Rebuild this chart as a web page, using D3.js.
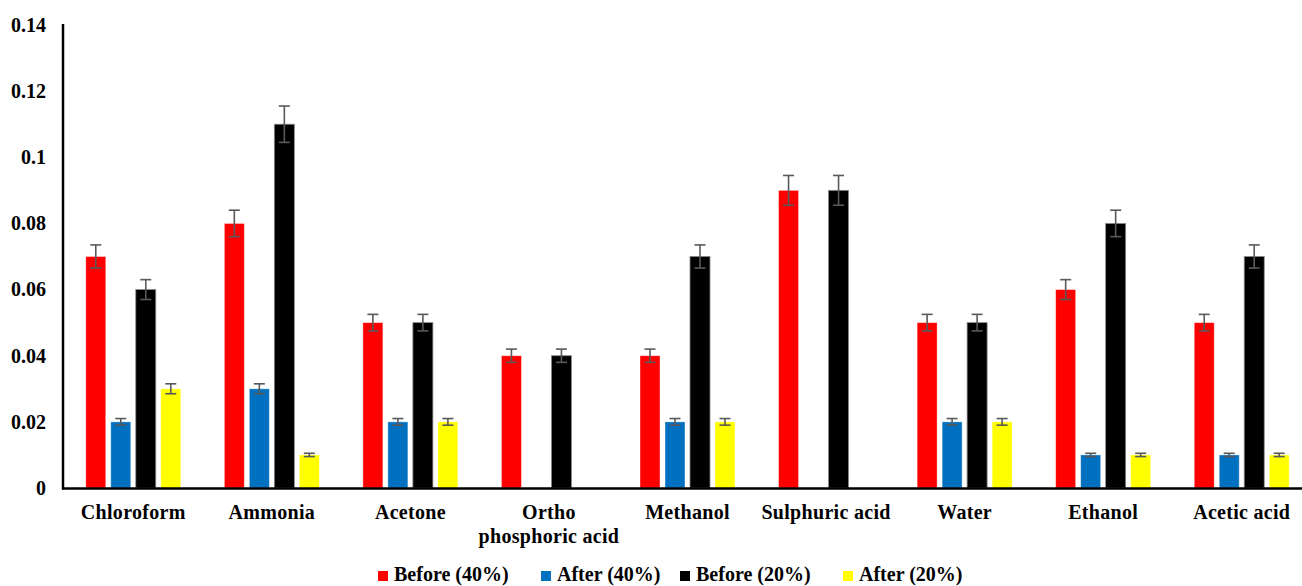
<!DOCTYPE html>
<html>
<head>
<meta charset="utf-8">
<script src="https://cdn.jsdelivr.net/npm/d3@7"></script>
<style>
  html, body { margin: 0; padding: 0; background: #fff; }
  svg { display: block; }
  text { font-family: "Liberation Serif", "Times New Roman", serif; font-weight: bold; fill: #000; }
</style>
</head>
<body>
<svg id="chart" width="1302" height="586"></svg>
<script>
const categories = ["Chloroform", "Ammonia", "Acetone", "Ortho\nphosphoric acid", "Methanol", "Sulphuric acid", "Water", "Ethanol", "Acetic acid"];
const seriesNames = ["Before (40%)", "After (40%)", "Before (20%)", "After (20%)"];
const seriesColors = ["#FF0000", "#0070C0", "#000000", "#FFFF00"];
const before40 = [0.07, 0.08, 0.05, 0.04, 0.04, 0.09, 0.05, 0.06, 0.05];
const after40  = [0.02, 0.03, 0.02, 0,    0.02, 0,    0.02, 0.01, 0.01];
const before20 = [0.06, 0.11, 0.05, 0.04, 0.07, 0.09, 0.05, 0.08, 0.07];
const after20  = [0.03, 0.01, 0.02, 0,    0.02, 0,    0.02, 0.01, 0.01];
const yTicks = [0, 0.02, 0.04, 0.06, 0.08, 0.1, 0.12, 0.14];
const errorPct = 0.05;

const seriesValues = [before40, after40, before20, after20];

const svg = d3.select("#chart");
const x0 = d3.scaleBand().domain(categories).range([64, 1311]).padding(0);
const bw = x0.bandwidth();
const x1 = d3.scaleBand().domain(seriesNames).range([bw / 2 - 50, bw / 2 + 50]).paddingInner(0.2).paddingOuter(0.1);
const y = d3.scaleLinear().domain([0, 0.14]).range([488, 25]);

// Y tick labels
const yAxis = d3.axisLeft(y).tickValues(yTicks).tickSize(0).tickPadding(17)
  .tickFormat(d => d === 0 ? "0" : String(+d.toFixed(2)));
const gy = svg.append("g").attr("transform", "translate(63,0)").call(yAxis);
gy.select(".domain").remove();
gy.selectAll("text").style("font-size", "20px").style("font-family", "'Liberation Serif', serif").style("font-weight", "bold");

// bars
const data = [];
categories.forEach((c, i) => {
  seriesNames.forEach((s, j) => {
    data.push({ cat: c, series: s, value: seriesValues[j][i], color: seriesColors[j] });
  });
});
const g = svg.append("g");
const bars = data.filter(d => d.value > 0);
g.selectAll("rect.bar").data(bars).enter().append("rect")
  .attr("class", "bar")
  .attr("x", d => x0(d.cat) + x1(d.series))
  .attr("width", x1.bandwidth())
  .attr("y", d => y(d.value))
  .attr("height", d => y(0) - y(d.value))
  .attr("fill", d => d.color)
  .attr("stroke", d => d.color === "#000000" ? "#8a8a8a" : "rgba(255,255,255,0.5)")
  .attr("stroke-width", 0.8);

// error bars
const eb = g.selectAll("g.err").data(bars).enter().append("g").attr("class", "err")
  .attr("stroke", "#595959").attr("stroke-width", 1.6);
eb.append("line")
  .attr("x1", d => x0(d.cat) + x1(d.series) + x1.bandwidth() / 2)
  .attr("x2", d => x0(d.cat) + x1(d.series) + x1.bandwidth() / 2)
  .attr("y1", d => y(d.value * (1 + errorPct)))
  .attr("y2", d => y(d.value * (1 - errorPct)));
[1 + errorPct, 1 - errorPct].forEach(f => {
  eb.append("line")
    .attr("x1", d => x0(d.cat) + x1(d.series) + x1.bandwidth() / 2 - 5.5)
    .attr("x2", d => x0(d.cat) + x1(d.series) + x1.bandwidth() / 2 + 5.5)
    .attr("y1", d => y(d.value * f))
    .attr("y2", d => y(d.value * f));
});

// axes lines
svg.append("line").attr("x1", 63).attr("x2", 63).attr("y1", 24).attr("y2", 489.5)
  .attr("stroke", "#000").attr("stroke-width", 2.5);
svg.append("line").attr("x1", 62).attr("x2", 1302).attr("y1", 488.5).attr("y2", 488.5)
  .attr("stroke", "#000").attr("stroke-width", 2.5);

// category labels
const xl = svg.append("g");
categories.forEach(c => {
  const lines = c.split("\n");
  const t = xl.append("text")
    .attr("x", x0(c) + bw / 2)
    .attr("y", 519)
    .attr("text-anchor", "middle")
    .style("font-size", "20px")
    .style("letter-spacing", "0.3px");
  lines.forEach((ln, k) => {
    t.append("tspan").attr("x", x0(c) + bw / 2).attr("dy", k === 0 ? 0 : 24).text(ln);
  });
});

// legend
const legendX = [378, 541, 680, 843];
const lg = svg.append("g");
seriesNames.forEach((s, j) => {
  lg.append("rect").attr("x", legendX[j]).attr("y", 571).attr("width", 10).attr("height", 10).attr("fill", seriesColors[j]);
  lg.append("text").attr("x", legendX[j] + 16).attr("y", 581).style("font-size", "20px").text(s);
});
</script>
</body>
</html>
